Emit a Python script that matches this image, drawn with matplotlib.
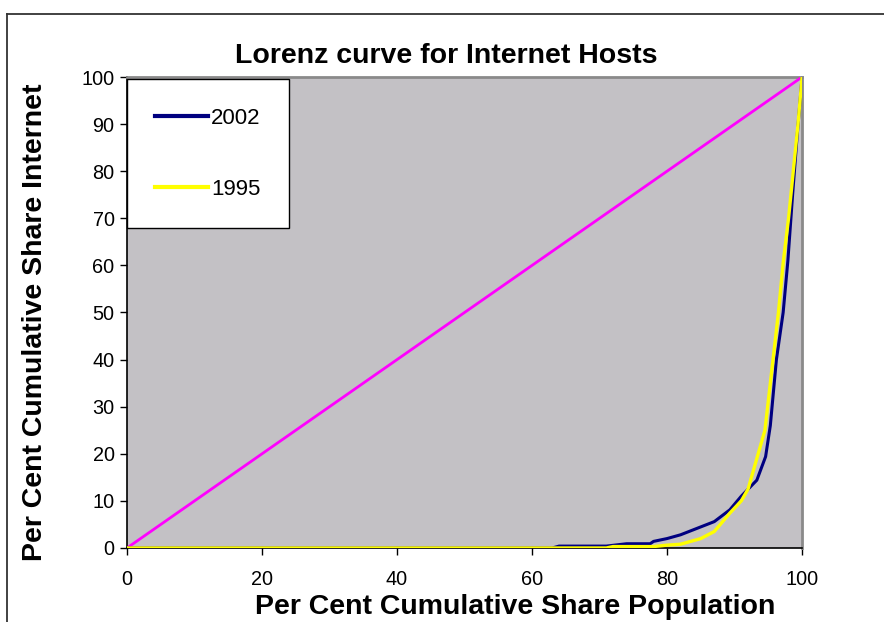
import numpy as np
import matplotlib
matplotlib.use("Agg")
import matplotlib.pyplot as plt
from matplotlib.lines import Line2D

# =============================================================================
# DATA
# =============================================================================

title = "Lorenz curve for Internet Hosts"
x_label = "Per Cent Cumulative Share Population"
y_label = "Per Cent Cumulative Share Internet"

equality_x = [0, 100]
equality_y = [0, 100]

pop_2002 = [0, 63, 64, 71, 74, 77.5, 78, 80, 82, 84.5, 87, 89.3, 91, 93.3,
            94.6, 95.3, 96.2, 97.2, 97.9, 98.6, 99.3, 100]
share_2002 = [0, 0, 0.4, 0.4, 0.9, 0.9, 1.4, 2.0, 2.8, 4.2, 5.6, 8.1, 11, 14.4,
              19.4, 26, 40, 50, 61, 75, 88, 100]

pop_1995 = [0, 71, 72, 78, 80, 82, 85, 87, 89.3, 91, 92, 93.3, 94.5, 95.7,
            96.5, 97.2, 98, 98.7, 99.4, 100]
share_1995 = [0, 0, 0.3, 0.3, 0.6, 0.8, 2.0, 3.5, 7.4, 10, 12.5, 19, 25, 40,
              50, 60.5, 70, 80, 90, 100]

x_ticks = [0, 20, 40, 60, 80, 100]
y_ticks = [0, 10, 20, 30, 40, 50, 60, 70, 80, 90, 100]

# =============================================================================
# STYLE
# =============================================================================

plt.rcParams['font.family'] = ['Liberation Sans', 'DejaVu Sans']

FIG_W, FIG_H, DPI = 8.84, 6.22, 100
PLOT_BG = "#c3c1c5"
FRAME_GREY = "#8a8a8a"


def main():
    fig = plt.figure(figsize=(FIG_W, FIG_H), dpi=DPI)
    ax = fig.add_axes([0.1437, 0.119, 0.7636, 0.7572])
    ax.set_facecolor(PLOT_BG)

    ax.plot(equality_x, equality_y, color="#ff00ff", linewidth=2.0,
            solid_capstyle="butt", zorder=3)
    ax.plot(pop_2002, share_2002, color="#000080", linewidth=2.2,
            label="2002", zorder=4)
    ax.plot(pop_1995, share_1995, color="#ffff00", linewidth=2.4,
            label="1995", zorder=5)

    ax.set_xlim(0, 100)
    ax.set_ylim(0, 100)
    ax.set_xticks(x_ticks)
    ax.set_yticks(y_ticks)
    ax.tick_params(axis="both", direction="out", length=5, width=1,
                   labelsize=14.3, colors="black", pad=4)
    ax.tick_params(axis="x", pad=11)

    for side in ("left", "bottom"):
        ax.spines[side].set_color("black")
        ax.spines[side].set_linewidth(1.2)
    for side in ("top", "right"):
        ax.spines[side].set_color(FRAME_GREY)
        ax.spines[side].set_linewidth(2.0)

    # title and axis titles sit a little off-centre in the original
    fig.text(446 / FIG_W / DPI, 1 - 56 / (FIG_H * DPI), title,
             fontsize=20.5, fontweight="bold", ha="center", va="center")
    ax.set_xlabel(x_label, fontsize=20.5, fontweight="bold")
    ax.xaxis.set_label_coords((515 - 127) / 675, -(607 - 548) / 471)
    ax.xaxis.label.set_va("center")
    ax.set_ylabel(y_label, fontsize=20.5, fontweight="bold")
    ax.yaxis.set_label_coords(-(127 - 35) / 675, (548 - 322) / 471)
    ax.yaxis.label.set_va("center")

    leg = ax.legend(loc="upper left", bbox_to_anchor=(0.0, 0.995),
                    borderaxespad=0.0, fontsize=16, frameon=True,
                    fancybox=False, handlelength=2.35, handletextpad=0.15,
                    labelspacing=2.25, borderpad=1.28)
    frame = leg.get_frame()
    frame.set_edgecolor("black")
    frame.set_linewidth(1.0)
    frame.set_facecolor("white")
    frame.set_alpha(1.0)
    for line in leg.get_lines():
        line.set_linewidth(3.0)

    # outer chart frame (Excel style), runs off the right and bottom edges
    fig.add_artist(Line2D([7 / 884, 7 / 884], [0, 1 - 14 / 622],
                          transform=fig.transFigure, color="#333333", lw=1.3))
    fig.add_artist(Line2D([7 / 884, 1], [1 - 14 / 622, 1 - 14 / 622],
                          transform=fig.transFigure, color="#333333", lw=1.3))

    fig.savefig("out.png", dpi=DPI, facecolor="white")
    plt.close(fig)


if __name__ == "__main__":
    main()
